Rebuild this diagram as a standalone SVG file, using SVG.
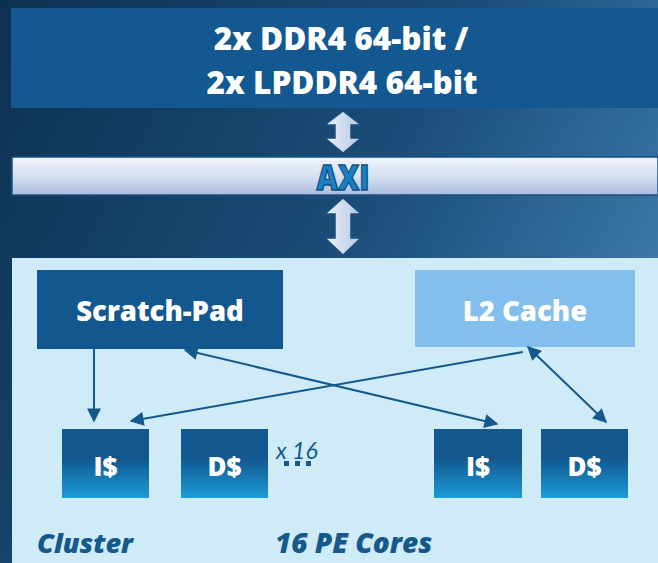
<svg xmlns="http://www.w3.org/2000/svg" width="658" height="563" viewBox="0 0 658 563">
<defs>
<linearGradient id="bg" x1="0" y1="0" x2="1" y2="0.45">
<stop offset="0" stop-color="#0c3150"/>
<stop offset="0.6" stop-color="#1b4d78"/>
<stop offset="1" stop-color="#3a76a6"/>
</linearGradient>
<linearGradient id="axi" x1="0" y1="0" x2="0" y2="1">
<stop offset="0" stop-color="#f2f5fb"/>
<stop offset="0.5" stop-color="#d6e0f0"/>
<stop offset="1" stop-color="#a9bde0"/>
</linearGradient>
<linearGradient id="arr" x1="0" y1="0" x2="1" y2="0">
<stop offset="0" stop-color="#eef3fb"/>
<stop offset="1" stop-color="#b4c6e4"/>
</linearGradient>
<linearGradient id="cache" x1="0" y1="0" x2="0" y2="1">
<stop offset="0" stop-color="#12578e"/>
<stop offset="0.42" stop-color="#12578e"/>
<stop offset="1" stop-color="#1b9bd8"/>
</linearGradient>
<marker id="ahb" viewBox="0 0 10 10" refX="9" refY="5" markerWidth="15" markerHeight="14" orient="auto-start-reverse" markerUnits="userSpaceOnUse">
<path d="M0,0 L10,5 L0,10 z" fill="#14588c"/>
</marker>
</defs>
<style>
.t{font-family:"Open Sans","Noto Sans",sans-serif;font-weight:800;fill:#ffffff;text-anchor:middle}
.it{font-family:"Open Sans","Noto Sans",sans-serif;font-style:italic;font-weight:800;fill:#14588c}
.cache{fill:url(#cache)}
.dbl{fill:url(#arr);stroke:#1a4f80;stroke-width:1.5}
.ln{stroke:#14588c;stroke-width:2;fill:none}
</style>
<rect x="0" y="0" width="658" height="563" fill="url(#bg)"/>

<g id="ddr">
<rect x="11" y="8" width="647" height="100" fill="#135890"/>
<text class="t" x="341" y="50" font-size="31.5">2x DDR4 64-bit /</text>
<text class="t" x="342" y="94" font-size="31.5">2x LPDDR4 64-bit</text>
</g>

<g id="axi">
<rect x="12" y="157" width="646" height="38" fill="url(#axi)" stroke="#1a4f80" stroke-width="1.5"/>
<text transform="translate(343,190) scale(0.95,1.12)" x="0" y="0" font-size="31" font-family="'Open Sans','Noto Sans',sans-serif" font-weight="800" text-anchor="middle" fill="#1a80c4" stroke="#0f4f80" stroke-width="1.2">AXI</text>
</g>

<g id="arrow-top">
<path class="dbl" d="M343,111 L361,125 L351,125 L351,138 L361,138 L343,153 L325,138 L335,138 L335,125 L325,125 Z"/>
</g>
<g id="arrow-bottom">
<path class="dbl" d="M343,198 L361,214 L351,214 L351,238 L361,238 L343,255 L325,238 L335,238 L335,214 L325,214 Z"/>
</g>

<g id="cluster">
<rect x="12" y="258" width="646" height="305" fill="#cfebf8"/>
<text class="it" x="37" y="553" font-size="27">Cluster</text>
<text class="it" x="275" y="553" font-size="28">16 PE Cores</text>
</g>

<g id="scratchpad">
<rect x="37" y="270" width="246" height="79" fill="#12578e"/>
<text class="t" x="160" y="321" font-size="27.5">Scratch-Pad</text>
</g>

<g id="l2cache">
<rect x="415" y="270" width="220" height="77" fill="#82bfee"/>
<text class="t" x="525" y="321" font-size="27.5">L2 Cache</text>
</g>

<g id="icache1">
<rect class="cache" x="62" y="429" width="87" height="69"/>
<text class="t" x="105.5" y="476" font-size="26">I$</text>
</g>
<g id="dcache1">
<rect class="cache" x="181" y="429" width="87" height="69"/>
<text class="t" x="224.5" y="476" font-size="26">D$</text>
</g>
<g id="icache2">
<rect class="cache" x="434" y="429" width="88" height="69"/>
<text class="t" x="478" y="476" font-size="26">I$</text>
</g>
<g id="dcache2">
<rect class="cache" x="541" y="429" width="87" height="69"/>
<text class="t" x="584.5" y="476" font-size="26">D$</text>
</g>

<g id="x16">
<text x="276" y="459" font-size="23" font-style="italic" font-family="'Lato','Noto Sans',sans-serif" fill="#14588c">x 16</text>
<rect x="284" y="461" width="5" height="5" fill="#14588c"/>
<rect x="295" y="461" width="5" height="5" fill="#14588c"/>
<rect x="306" y="461" width="5" height="5" fill="#14588c"/>
</g>

<g id="connectors">
<line class="ln" x1="94" y1="349" x2="94" y2="421" marker-end="url(#ahb)"/>
<line class="ln" x1="523" y1="352" x2="131" y2="421" marker-end="url(#ahb)"/>
<line class="ln" x1="185" y1="350" x2="497" y2="424" marker-start="url(#ahb)" marker-end="url(#ahb)"/>
<line class="ln" x1="528" y1="347" x2="606" y2="422" marker-start="url(#ahb)" marker-end="url(#ahb)"/>
</g>
</svg>
